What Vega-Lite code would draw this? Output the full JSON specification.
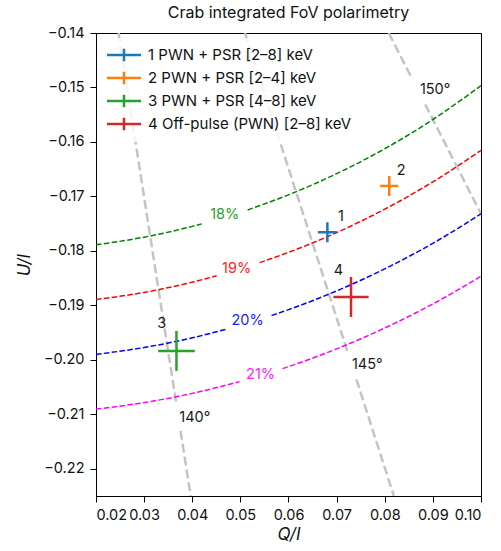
{
  "$schema": "https://vega.github.io/schema/vega-lite/v6.json",
  "width": 385,
  "height": 463,
  "autosize": {"type": "none"},
  "padding": {"left": 96, "top": 33, "right": 20, "bottom": 55},
  "background": "white",
  "title": {"text": "Crab integrated FoV polarimetry", "fontSize": 16, "fontWeight": "normal", "font": "Inter", "color": "#111", "offset": 4},
  "config": {
    "font": "Inter",
    "view": {"stroke": "black", "strokeWidth": 1},
    "axis": {"domainColor": "black", "tickColor": "black", "labelColor": "#111", "labelFontSize": 14.5, "titleColor": "#111", "titleFontSize": 17, "titleFontStyle": "italic", "titleFontWeight": "normal", "grid": false, "tickSize": 6, "labelPadding": 6}
  },
  "datasets": {
    "angles": [
      {"ang": "140", "seg": "140a", "Q": 0.02469, "U": -0.14},
      {"ang": "140", "seg": "140a", "Q": 0.03670, "U": -0.20815},
      {"ang": "140", "seg": "140b", "Q": 0.03757, "U": -0.21305},
      {"ang": "140", "seg": "140b", "Q": 0.03968, "U": -0.225},
      {"ang": "145", "seg": "145a", "Q": 0.05096, "U": -0.14},
      {"ang": "145", "seg": "145a", "Q": 0.07243, "U": -0.19898},
      {"ang": "145", "seg": "145b", "Q": 0.07411, "U": -0.20357},
      {"ang": "145", "seg": "145b", "Q": 0.08189, "U": -0.225},
      {"ang": "150", "seg": "150a", "Q": 0.08083, "U": -0.14},
      {"ang": "150", "seg": "150a", "Q": 0.08574, "U": -0.1485},
      {"ang": "150", "seg": "150b", "Q": 0.0884, "U": -0.1531},
      {"ang": "150", "seg": "150b", "Q": 0.10, "U": -0.17321}
    ],
    "curves": [
      {"pd": "18%", "seg": "18a", "Q": 0.02, "U": -0.17889},
      {"pd": "18%", "seg": "18a", "Q": 0.03, "U": -0.17748},
      {"pd": "18%", "seg": "18a", "Q": 0.04, "U": -0.17550},
      {"pd": "18%", "seg": "18a", "Q": 0.04197, "U": -0.17504},
      {"pd": "18%", "seg": "18b", "Q": 0.0515, "U": -0.17248},
      {"pd": "18%", "seg": "18b", "Q": 0.06, "U": -0.16971},
      {"pd": "18%", "seg": "18b", "Q": 0.07, "U": -0.16583},
      {"pd": "18%", "seg": "18b", "Q": 0.08, "U": -0.16125},
      {"pd": "18%", "seg": "18b", "Q": 0.09, "U": -0.15588},
      {"pd": "18%", "seg": "18b", "Q": 0.10, "U": -0.14967},
      {"pd": "19%", "seg": "19a", "Q": 0.02, "U": -0.18894},
      {"pd": "19%", "seg": "19a", "Q": 0.03, "U": -0.18762},
      {"pd": "19%", "seg": "19a", "Q": 0.04, "U": -0.18574},
      {"pd": "19%", "seg": "19a", "Q": 0.04508, "U": -0.18458},
      {"pd": "19%", "seg": "19b", "Q": 0.054, "U": -0.18216},
      {"pd": "19%", "seg": "19b", "Q": 0.06, "U": -0.18028},
      {"pd": "19%", "seg": "19b", "Q": 0.07, "U": -0.17664},
      {"pd": "19%", "seg": "19b", "Q": 0.08, "U": -0.17234},
      {"pd": "19%", "seg": "19b", "Q": 0.09, "U": -0.16733},
      {"pd": "19%", "seg": "19b", "Q": 0.10, "U": -0.16155},
      {"pd": "20%", "seg": "20a", "Q": 0.02, "U": -0.19900},
      {"pd": "20%", "seg": "20a", "Q": 0.03, "U": -0.19774},
      {"pd": "20%", "seg": "20a", "Q": 0.04, "U": -0.19596},
      {"pd": "20%", "seg": "20a", "Q": 0.04715, "U": -0.19436},
      {"pd": "20%", "seg": "20b", "Q": 0.05648, "U": -0.19186},
      {"pd": "20%", "seg": "20b", "Q": 0.06, "U": -0.19079},
      {"pd": "20%", "seg": "20b", "Q": 0.07, "U": -0.18735},
      {"pd": "20%", "seg": "20b", "Q": 0.08, "U": -0.18330},
      {"pd": "20%", "seg": "20b", "Q": 0.09, "U": -0.17861},
      {"pd": "20%", "seg": "20b", "Q": 0.10, "U": -0.17321},
      {"pd": "21%", "seg": "21a", "Q": 0.02, "U": -0.20905},
      {"pd": "21%", "seg": "21a", "Q": 0.03, "U": -0.20785},
      {"pd": "21%", "seg": "21a", "Q": 0.04, "U": -0.20616},
      {"pd": "21%", "seg": "21a", "Q": 0.04984, "U": -0.20400},
      {"pd": "21%", "seg": "21b", "Q": 0.05876, "U": -0.20161},
      {"pd": "21%", "seg": "21b", "Q": 0.06, "U": -0.20125},
      {"pd": "21%", "seg": "21b", "Q": 0.07, "U": -0.19799},
      {"pd": "21%", "seg": "21b", "Q": 0.08, "U": -0.19416},
      {"pd": "21%", "seg": "21b", "Q": 0.09, "U": -0.18974},
      {"pd": "21%", "seg": "21b", "Q": 0.10, "U": -0.18466}
    ],
    "points": [
      {"series": "1 PWN + PSR [2–8] keV", "Q": 0.06808, "U": -0.17658, "Qlo": 0.06611, "Qhi": 0.07005, "Ulo": -0.17842, "Uhi": -0.17474},
      {"series": "2 PWN + PSR [2–4] keV", "Q": 0.08093, "U": -0.16808, "Qlo": 0.07906, "Qhi": 0.08280, "Ulo": -0.16992, "Uhi": -0.16624},
      {"series": "3 PWN + PSR [4–8] keV", "Q": 0.03672, "U": -0.19837, "Qlo": 0.03292, "Qhi": 0.04052, "Ulo": -0.20204, "Uhi": -0.19470},
      {"series": "4 Off-pulse (PWN) [2–8] keV", "Q": 0.07299, "U": -0.18846, "Qlo": 0.06933, "Qhi": 0.07665, "Ulo": -0.19213, "Uhi": -0.18479}
    ],
    "labels": [
      {"text": "1", "kind": "num", "Q": 0.07092, "U": -0.17383},
      {"text": "2", "kind": "num", "Q": 0.08342, "U": -0.16533},
      {"text": "3", "kind": "num", "Q": 0.03368, "U": -0.19347},
      {"text": "4", "kind": "num", "Q": 0.07036, "U": -0.18374},
      {"text": "140°", "kind": "num", "Q": 0.04052, "U": -0.21072},
      {"text": "145°", "kind": "num", "Q": 0.07637, "U": -0.2010},
      {"text": "150°", "kind": "num", "Q": 0.09047, "U": -0.15053},
      {"text": "18%", "kind": "18%", "Q": 0.04674, "U": -0.17346},
      {"text": "19%", "kind": "19%", "Q": 0.04922, "U": -0.18337},
      {"text": "20%", "kind": "20%", "Q": 0.0515, "U": -0.19292},
      {"text": "21%", "kind": "21%", "Q": 0.0542, "U": -0.20283}
    ]
  },
  "encoding": {
    "x": {"type": "quantitative", "scale": {"domain": [0.02, 0.10], "nice": false, "zero": false},
      "axis": {"title": "Q/I", "values": [0.02, 0.03, 0.04, 0.05, 0.06, 0.07, 0.08, 0.09, 0.10], "format": ".2f", "titlePadding": 5}},
    "y": {"type": "quantitative", "scale": {"domain": [-0.225, -0.14], "nice": false, "zero": false},
      "axis": {"title": "U/I", "values": [-0.22, -0.21, -0.20, -0.19, -0.18, -0.17, -0.16, -0.15, -0.14], "format": ".2f", "titlePadding": 10}}
  },
  "layer": [
    {
      "data": {"name": "angles"},
      "mark": {"type": "line", "clip": true, "color": "#c4c4c4", "strokeWidth": 2.5, "strokeDash": [9, 4]},
      "encoding": {"x": {"field": "Q", "type": "quantitative"}, "y": {"field": "U", "type": "quantitative"}, "detail": {"field": "seg"}}
    },
    {
      "data": {"name": "curves"},
      "mark": {"type": "line", "clip": true, "strokeWidth": 1.5, "strokeDash": [5.5, 2.4], "interpolate": "monotone"},
      "encoding": {"x": {"field": "Q", "type": "quantitative"}, "y": {"field": "U", "type": "quantitative"}, "detail": {"field": "seg"},
        "stroke": {"field": "pd", "type": "nominal", "scale": {"domain": ["18%", "19%", "20%", "21%"], "range": ["#008000", "#ff0000", "#0000ff", "#ff00ff"]}, "legend": null}}
    },
    {
      "data": {"name": "labels"},
      "mark": {"type": "text", "fontSize": 14.5, "align": "center", "baseline": "middle"},
      "encoding": {"x": {"field": "Q", "type": "quantitative"}, "y": {"field": "U", "type": "quantitative"}, "text": {"field": "text"},
        "fill": {"field": "kind", "type": "nominal", "scale": {"domain": ["num", "18%", "19%", "20%", "21%"], "range": ["#1a1a1a", "#2ca02c", "#ff2222", "#2222ff", "#ff22ff"]}, "legend": null}}
    },
    {
      "data": {"name": "points"},
      "mark": {"type": "rule", "strokeWidth": 2.5},
      "encoding": {"x": {"field": "Qlo", "type": "quantitative"}, "x2": {"field": "Qhi"}, "y": {"field": "U", "type": "quantitative"},
        "color": {"field": "series", "type": "nominal", "title": null,
          "scale": {"domain": ["1 PWN + PSR [2–8] keV", "2 PWN + PSR [2–4] keV", "3 PWN + PSR [4–8] keV", "4 Off-pulse (PWN) [2–8] keV"], "range": ["#1f77b4", "#ff7f0e", "#2ca02c", "#d62728"]},
          "legend": {"orient": "none", "legendX": 11, "legendY": 5, "padding": 6, "fillColor": "rgba(255,255,255,0.8)", "labelFontSize": 15, "labelColor": "#111", "labelLimit": 300,
            "symbolType": "M-1.75,0H1.75M0,-0.65V0.65", "symbolSize": 380, "symbolStrokeWidth": 2.5, "symbolFillColor": "transparent", "rowPadding": -2, "labelOffset": 13}}}
    },
    {
      "data": {"name": "points"},
      "mark": {"type": "rule", "strokeWidth": 2.5},
      "encoding": {"x": {"field": "Q", "type": "quantitative"}, "y": {"field": "Ulo", "type": "quantitative"}, "y2": {"field": "Uhi"},
        "color": {"field": "series", "type": "nominal"}}
    }
  ]
}
